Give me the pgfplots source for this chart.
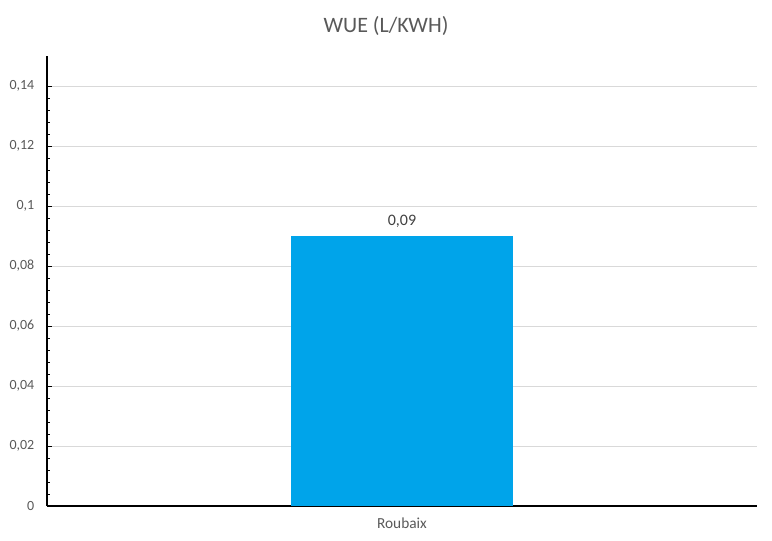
\documentclass[border=0pt]{standalone}
\usepackage{pgfplots}
\pgfplotsset{compat=1.18}
\usepackage{fontspec}
\setmainfont{Carlito}
\definecolor{barblue}{RGB}{0,164,234}
\definecolor{txtgray}{RGB}{89,89,89}
\definecolor{gridgray}{RGB}{217,217,217}
\begin{document}
\begin{tikzpicture}[x=0.75pt,y=0.75pt]
\path[use as bounding box] (0,0) rectangle (772,540);
\node[font=\fontsize{16.5}{18}\selectfont, text=txtgray] at (386,514) {WUE (L/KWH)};
\begin{axis}[
    at={(47pt*0.75,34pt*0.75)}, anchor=south west,
    scale only axis,
    width=532.5pt, height=337.5pt,
    ymin=0, ymax=0.15,
    xmin=-0.5, xmax=0.5,
    xtick={0}, xticklabels={Roubaix},
    ytick={0,0.02,0.04,0.06,0.08,0.1,0.12,0.14},
    scaled y ticks=false,
    minor y tick num=4,
    ybar, bar width=0.314,
    axis lines*=left,
    axis line style={black, line width=0.8pt},
    x axis line style={-}, y axis line style={-},
    ymajorgrids, grid style={gridgray, line width=0.6pt},
    major x tick style={draw=none},
    y tick style={black, line width=0.6pt},
    tickpos=left, tick align=inside,
    major tick length=3.75pt, minor tick length=2.25pt,
    ticklabel style={text=txtgray},
    yticklabel style={font=\fontsize{10.5}{12}\selectfont, xshift=-6pt, /pgf/number format/.cd, fixed, precision=2, use comma, assume math mode=true},
    xticklabel style={font=\fontsize{11.5}{13}\selectfont, yshift=-5pt},
    nodes near coords,
    nodes near coords style={font=\fontsize{12}{14}\selectfont, text=black!75, yshift=3pt, /pgf/number format/.cd, fixed, precision=2, use comma, assume math mode=true},
    clip=false,
]
\addplot[fill=barblue, draw=none] coordinates {(0,0.09)};
\end{axis}
\end{tikzpicture}
\end{document}
